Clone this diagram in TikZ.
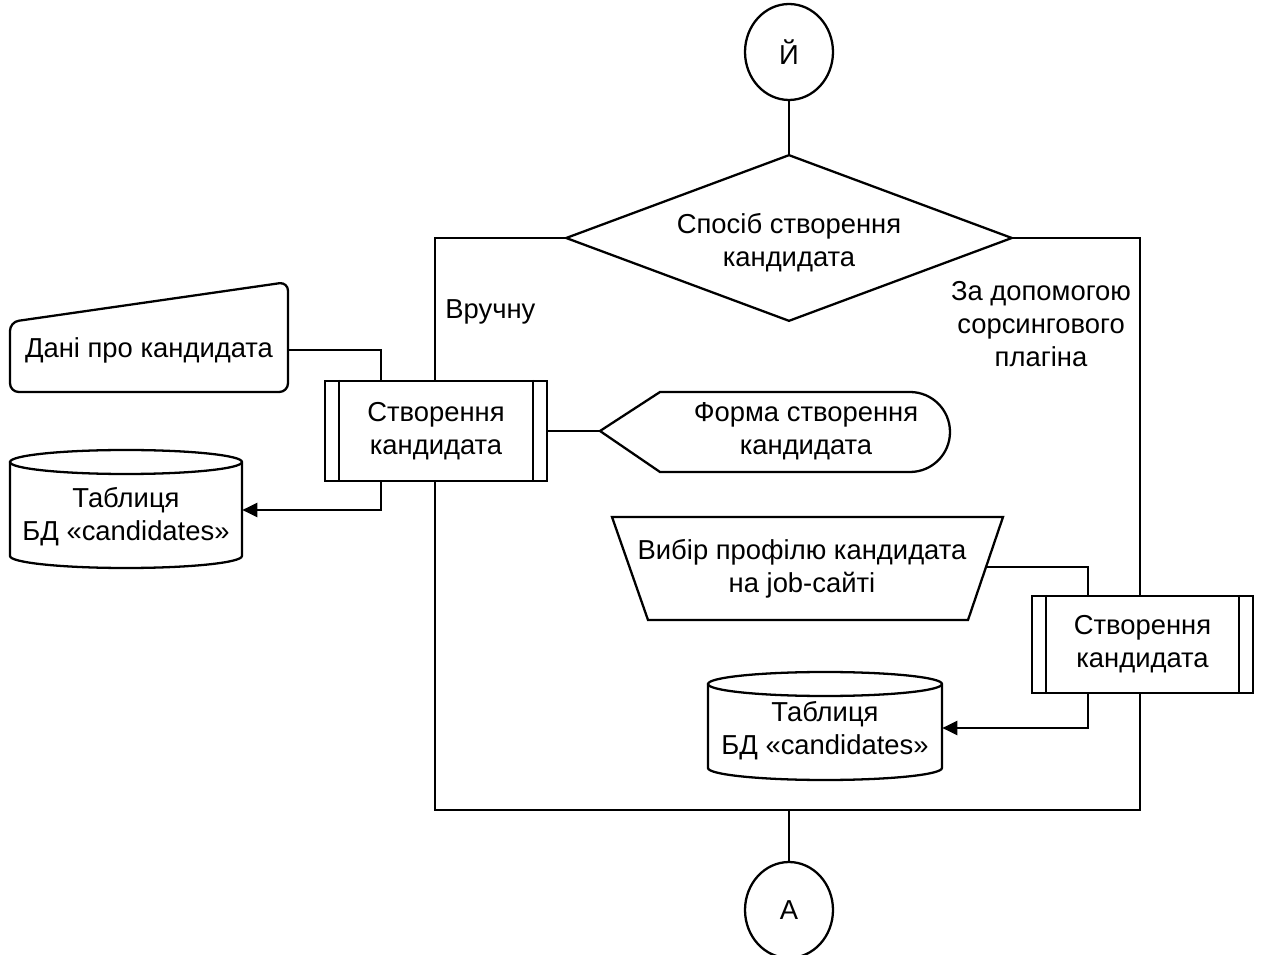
\documentclass[tikz,border=0pt]{standalone}
\usepackage{fontspec}
\setmainfont{Liberation Sans}
\usetikzlibrary{calc,arrows.meta,shapes.geometric}
\newcommand{\dfont}{\fontsize{15.6pt}{18.6pt}\selectfont}

\begin{document}
\begin{tikzpicture}[x=0.02cm,y=0.02cm,
  base/.style={draw, line width=1.3pt},
  txt/.style={align=center, font=\dfont, inner sep=0pt},
  conn/.style={line width=1.3pt},
  arr/.style={conn, -{Triangle[length=0.3cm,width=0.28cm]}},
  connector/.style={base, ellipse, txt, minimum width=1.76cm, minimum height=1.92cm},
  procbox/.style={base, txt, fill=white, rectangle},
]
\useasboundingbox (0,0) rectangle (1264,-955);

% connectors on the page
\node[connector] (J) at (789,-52) {Й};
\node[connector] (A) at (789,-910) {А};

% decision
\node[minimum width=8.9cm, minimum height=3.3cm, inner sep=0pt] (D) at (789,-238) {};
\draw[base] (D.west) -- (D.north) -- (D.east) -- (D.south) -- cycle;
\node[txt] (Dt) at (789,-243) {Спосіб створення\\кандидата};
\draw[conn] (J.south) -- (D.north);

% branch frame
\coordinate (TL) at (435,-238);
\coordinate (TR) at (1140,-238);
\coordinate (BL) at (435,-810);
\coordinate (BR) at (1140,-810);
\coordinate (BM) at (789,-810);
\draw[conn] (D.west) -- (TL) -- (BL) -- (BR) -- (TR) -- (D.east);
\draw[conn] (BM) -- (A.north);

\node[txt, anchor=west] (manual) at (445,-312) {Вручну};
\node[txt] (plugin) at (1041,-324) {За допомогою\\сорсингового\\плагіна};

% manual branch
\node[procbox, minimum width=4.44cm, minimum height=2cm] (P1) at (436,-431) {Створення\\кандидата};
\draw[conn] ([xshift=0.3cm]P1.north west) -- ([xshift=0.3cm]P1.south west);
\draw[conn] ([xshift=-0.3cm]P1.north east) -- ([xshift=-0.3cm]P1.south east);

% manual input
\node[txt, minimum width=5.56cm] (M) at (149,-350) {Дані про кандидата};
\draw[base, rounded corners=5pt] (10,-322) -- (288,-282) -- (288,-392) -- (10,-392) -- cycle;
\draw[conn] (M.east) -| ([xshift=-1.1cm]P1.north);

% database table, manual branch
\draw[base, fill=white] (10,-462) -- (10,-556)
  arc[start angle=180, end angle=360, x radius=2.32cm, y radius=0.24cm]
  -- (242,-462)
  arc[start angle=0, end angle=180, x radius=2.32cm, y radius=0.24cm] -- cycle;
\draw[conn] (10,-462) arc[start angle=180, end angle=360, x radius=2.32cm, y radius=0.24cm];
\node[txt, minimum width=4.64cm] (C1) at (126,-517) {Таблиця\\БД «candidates»};
\draw[arr] ([xshift=-1.1cm]P1.south) |- ([yshift=0.14cm]C1.east);

% display
\node[txt] (F) at (806,-431) {Форма створення\\кандидата};
\coordinate (Fw) at (600,-431);
\draw[base] (Fw) -- (660,-392) -- (910,-392)
  arc[start angle=90, end angle=-90, radius=0.8cm] -- (660,-472) -- cycle;
\draw[conn] (P1.east) -- (Fw);

% sourcing plugin branch
\node[txt] (T) at (802,-569) {Вибір профілю кандидата\\на job-сайті};
\draw[base] (612,-517) -- (1003,-517) -- (968,-620) -- (648,-620) -- cycle;
\coordinate (Te) at (986,-567);

\node[procbox, minimum width=4.42cm, minimum height=1.94cm] (P2) at (1142.5,-644.5) {Створення\\кандидата};
\draw[conn] ([xshift=0.3cm]P2.north west) -- ([xshift=0.3cm]P2.south west);
\draw[conn] ([xshift=-0.3cm]P2.north east) -- ([xshift=-0.3cm]P2.south east);
\draw[conn] (Te) -| ([xshift=-1.09cm]P2.north);

% database table, plugin branch
\draw[base, fill=white] (708,-684) -- (708,-768)
  arc[start angle=180, end angle=360, x radius=2.34cm, y radius=0.24cm]
  -- (942,-684)
  arc[start angle=0, end angle=180, x radius=2.34cm, y radius=0.24cm] -- cycle;
\draw[conn] (708,-684) arc[start angle=180, end angle=360, x radius=2.34cm, y radius=0.24cm];
\node[txt, minimum width=4.68cm] (C2) at (825,-731) {Таблиця\\БД «candidates»};
\draw[arr] ([xshift=-1.09cm]P2.south) |- ([yshift=0.06cm]C2.east);
\end{tikzpicture}
\end{document}
